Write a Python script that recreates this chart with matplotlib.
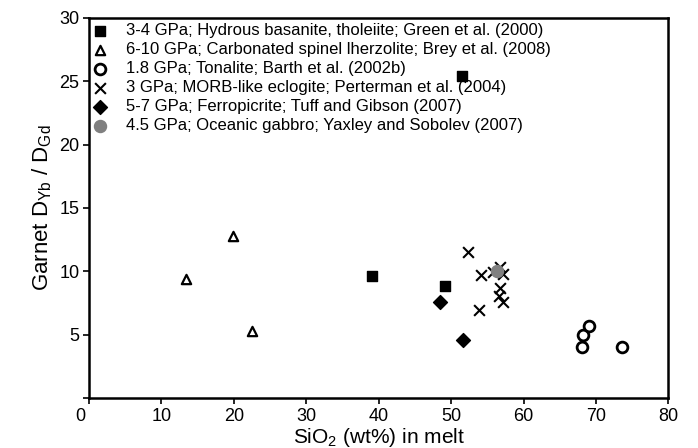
import matplotlib
matplotlib.use("Agg")
from matplotlib import pyplot as plt
from matplotlib.transforms import ScaledTranslation

plt.rcParams['font.family'] = ['Liberation Sans', 'DejaVu Sans']
plt.rcParams['mathtext.fontset'] = 'custom'
plt.rcParams['mathtext.rm'] = 'Liberation Sans'
plt.rcParams['mathtext.it'] = 'Liberation Sans'

# data: SiO2 (wt%) and garnet D_Yb/D_Gd
green_x = [39.1, 49.2, 51.5]
green_y = [9.6, 8.8, 25.4]
brey_x = [13.4, 19.9, 22.5]
brey_y = [9.4, 12.75, 5.3]
barth_x = [68.1, 68.2, 69.1, 73.6]
barth_y = [4.0, 4.95, 5.7, 4.0]
pert_x = [52.4, 54.2, 53.9, 55.8, 56.8, 57.2, 56.8, 56.6, 57.2]
pert_y = [11.5, 9.7, 6.9, 9.9, 10.3, 9.8, 8.65, 8.05, 7.55]
tuff_x = [48.5, 51.7]
tuff_y = [7.55, 4.6]
yax_x = [56.4]
yax_y = [10.0]

labels = [
    "3-4 GPa; Hydrous basanite, tholeiite; Green et al. (2000)",
    "6-10 GPa; Carbonated spinel lherzolite; Brey et al. (2008)",
    "1.8 GPa; Tonalite; Barth et al. (2002b)",
    "3 GPa; MORB-like eclogite; Perterman et al. (2004)",
    "5-7 GPa; Ferropicrite; Tuff and Gibson (2007)",
    "4.5 GPa; Oceanic gabbro; Yaxley and Sobolev (2007)",
]

fig = plt.figure(figsize=(6.98, 4.48), dpi=100)
ax = fig.add_axes([0.1275, 0.112, 0.83, 0.848])

ax.scatter(green_x, green_y, marker='s', s=60, c='black', label=labels[0], zorder=3)
ax.scatter(brey_x, brey_y, marker='^', s=45, facecolors='white', edgecolors='black',
           linewidths=1.6, label=labels[1], zorder=3)
ax.scatter(barth_x, barth_y, marker='o', s=60, facecolors='white', edgecolors='black',
           linewidths=2, label=labels[2], zorder=3)
ax.scatter(pert_x, pert_y, marker='x', s=60, c='black', linewidths=1.5, label=labels[3], zorder=3)
ax.scatter(tuff_x, tuff_y, marker='D', s=50, c='black', label=labels[4], zorder=3)
ax.scatter(yax_x, yax_y, marker='o', s=75, c='#808080', label=labels[5], zorder=4)

ax.set_xlim(0, 80)
ax.set_ylim(0, 30)
ax.set_xticks([0, 10, 20, 30, 40, 50, 60, 70, 80])
ax.set_yticks([0, 5, 10, 15, 20, 25, 30])
ax.set_yticklabels(['', '5', '10', '15', '20', '25', '30'])
ax.tick_params(direction='out', length=4, width=1.2, labelsize=13, pad=3)

# the shared "0" sits a little left of the corner
lab0 = ax.get_xticklabels()[0]
lab0.set_transform(lab0.get_transform() + ScaledTranslation(-9 / 100, 0, fig.dpi_scale_trans))

for sp in ax.spines.values():
    sp.set_linewidth(1.8)

ax.set_xlabel("SiO$_2$ (wt%) in melt", fontsize=15, labelpad=1)
ax.set_ylabel("Garnet D$_{\\mathrm{Yb}}$ / D$_{\\mathrm{Gd}}$", fontsize=16, labelpad=4)

ax.legend(loc='upper left', frameon=False, fontsize=12, handletextpad=1.2,
          labelspacing=0.24, borderaxespad=0.1, handlelength=0.75,
          borderpad=0.2, scatterpoints=1)

fig.savefig("out.png", dpi=100)
